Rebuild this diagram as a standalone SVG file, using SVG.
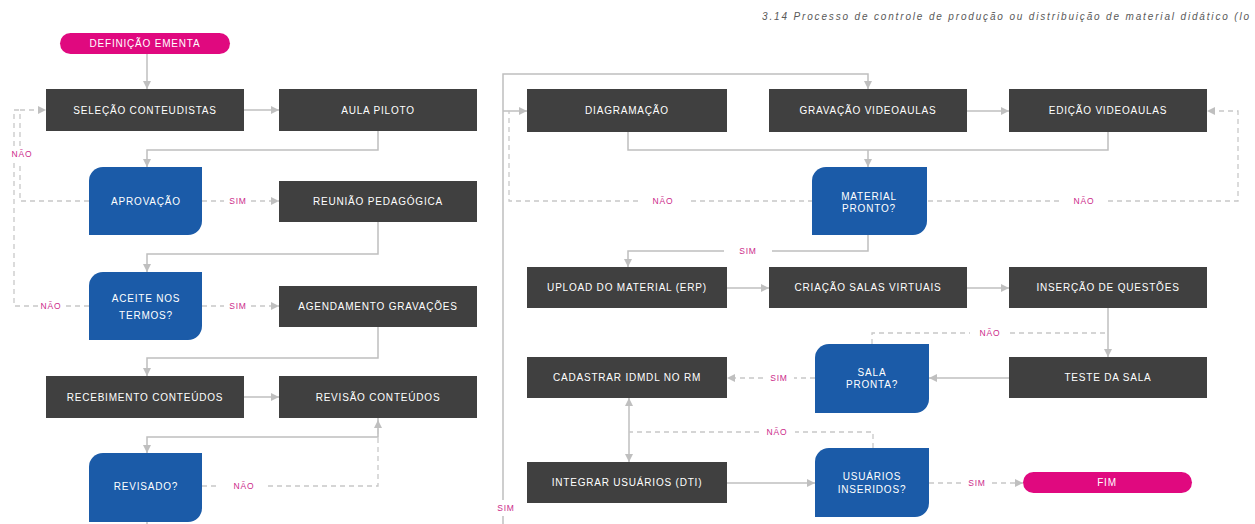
<svg xmlns="http://www.w3.org/2000/svg" width="1255" height="524" viewBox="0 0 1255 524">
<style>
.box{fill:#404040}
.dec{fill:#1b5ba8}
.pill{fill:#e0097f}
.t{font-family:"Liberation Sans",Arial,sans-serif;font-size:10px;fill:#ffffff;letter-spacing:0.8px;text-anchor:middle}
.lbl{font-family:"Liberation Sans",Arial,sans-serif;font-size:8.5px;fill:#cc2a8a;letter-spacing:0.8px;text-anchor:middle}
.title{font-family:"Liberation Sans",Arial,sans-serif;font-size:10px;font-style:italic;fill:#595959;letter-spacing:0.9px}
.c{fill:none;stroke:#bfbfbf;stroke-width:1.5}
.d{fill:none;stroke:#c8c8c8;stroke-width:1.3;stroke-dasharray:5 4}
</style>
<defs>
<marker id="ah" viewBox="0 0 8 8" refX="8" refY="4" markerWidth="8" markerHeight="8" markerUnits="userSpaceOnUse" orient="auto-start-reverse">
<path d="M0,0 L8,4 L0,8 Z" fill="#bfbfbf"/>
</marker>
</defs>
<rect width="1255" height="524" fill="#ffffff"/>
<text class="title" x="762" y="20" textLength="488" lengthAdjust="spacing">3.14 Processo de controle de produção ou distribuição de material didático (lo</text>

<g id="connectors">
<!-- solid -->
<path class="c" d="M147,54 V89" marker-end="url(#ah)"/>
<path class="c" d="M244,110 H279" marker-end="url(#ah)"/>
<path class="c" d="M378,131 V150 H147 V167" marker-end="url(#ah)"/>
<path class="c" d="M378,222 V254 H147 V272" marker-end="url(#ah)"/>
<path class="c" d="M378,327 V358 H147 V376" marker-end="url(#ah)"/>
<path class="c" d="M244,397 H279" marker-end="url(#ah)"/>
<path class="c" d="M378,418 V437 H147 V453" marker-end="url(#ah)"/>
<path class="c" d="M147,522 V524"/>
<path class="c" d="M503,524 V516"/>
<path class="c" d="M503,500 V74 H868 V89" marker-end="url(#ah)"/>
<path class="c" d="M503,111 H527" marker-end="url(#ah)"/>
<path class="c" d="M967,111 H1009" marker-end="url(#ah)"/>
<path class="c" d="M628,132 V150 H1108 V132"/>
<path class="c" d="M868,150 V167" marker-end="url(#ah)"/>
<path class="c" d="M868,235 V251 H772"/>
<path class="c" d="M724,251 H628 V267" marker-end="url(#ah)"/>
<path class="c" d="M727,288 H769" marker-end="url(#ah)"/>
<path class="c" d="M967,288 H1009" marker-end="url(#ah)"/>
<path class="c" d="M1108,308 V357" marker-end="url(#ah)"/>
<path class="c" d="M1009,378 H929" marker-end="url(#ah)"/>
<path class="c" d="M629,398 V462" marker-start="url(#ah)" marker-end="url(#ah)"/>
<path class="c" d="M727,483 H815" marker-end="url(#ah)"/>
<!-- dashed -->
<path class="d" d="M89,201 H20 V162"/>
<path class="d" d="M20,146 V110 H46" marker-end="url(#ah)"/>
<path class="d" d="M89,306 H63"/>
<path class="d" d="M38,306 H14 V162"/>
<path class="d" d="M14,146 V110 H20"/>
<path class="d" d="M202,201 H224"/>
<path class="d" d="M251,201 H279" marker-end="url(#ah)"/>
<path class="d" d="M202,306 H224"/>
<path class="d" d="M251,306 H279" marker-end="url(#ah)"/>
<path class="d" d="M202,486 H220"/>
<path class="d" d="M268,486 H378 V420" marker-end="url(#ah)"/>
<path class="d" d="M813,201 H688"/>
<path class="d" d="M638,201 H509 V111"/>
<path class="d" d="M928,201 H1060"/>
<path class="d" d="M1108,201 H1238 V111 H1207" marker-end="url(#ah)"/>
<path class="d" d="M872,344 V333 H970"/>
<path class="d" d="M1010,333 H1108"/>
<path class="d" d="M815,378 H794"/>
<path class="d" d="M763,378 H727" marker-end="url(#ah)"/>
<path class="d" d="M873,448 V432 H795"/>
<path class="d" d="M759,432 H629"/>
<path class="d" d="M929,483 H962"/>
<path class="d" d="M992,483 H1023" marker-end="url(#ah)"/>
<!-- labels -->
<text class="lbl" x="22" y="157">NÃO</text>
<text class="lbl" x="51" y="309">NÃO</text>
<text class="lbl" x="238" y="204">SIM</text>
<text class="lbl" x="238" y="309">SIM</text>
<text class="lbl" x="244" y="489">NÃO</text>
<text class="lbl" x="506" y="511">SIM</text>
<text class="lbl" x="663" y="204">NÃO</text>
<text class="lbl" x="1084" y="204">NÃO</text>
<text class="lbl" x="748" y="254">SIM</text>
<text class="lbl" x="990" y="336">NÃO</text>
<text class="lbl" x="779" y="381">SIM</text>
<text class="lbl" x="777" y="435">NÃO</text>
<text class="lbl" x="977" y="486">SIM</text>
</g>

<g id="definicao-ementa"><rect class="pill" x="60" y="33" width="170" height="21" rx="10.5"/><text class="t" x="145" y="47">DEFINIÇÃO EMENTA</text></g>
<g id="selecao-conteudistas"><rect class="box" x="46" y="89" width="198" height="42"/><text class="t" x="145" y="114">SELEÇÃO CONTEUDISTAS</text></g>
<g id="aula-piloto"><rect class="box" x="279" y="89" width="198" height="42"/><text class="t" x="378" y="114">AULA PILOTO</text></g>
<g id="aprovacao"><path class="dec" d="M103,167 H202 V221 A14,14 0 0 1 188,235 H89 V181 A14,14 0 0 1 103,167 Z"/><text class="t" x="146" y="205">APROVAÇÃO</text></g>
<g id="reuniao-pedagogica"><rect class="box" x="279" y="181" width="198" height="41"/><text class="t" x="378" y="205">REUNIÃO PEDAGÓGICA</text></g>
<g id="aceite-termos"><path class="dec" d="M103,272 H202 V326 A14,14 0 0 1 188,340 H89 V286 A14,14 0 0 1 103,272 Z"/><text class="t" x="146" y="302">ACEITE NOS</text><text class="t" x="146" y="319">TERMOS?</text></g>
<g id="agendamento-gravacoes"><rect class="box" x="279" y="286" width="198" height="41"/><text class="t" x="378" y="310">AGENDAMENTO GRAVAÇÕES</text></g>
<g id="recebimento-conteudos"><rect class="box" x="46" y="376" width="198" height="42"/><text class="t" x="145" y="401">RECEBIMENTO CONTEÚDOS</text></g>
<g id="revisao-conteudos"><rect class="box" x="279" y="376" width="198" height="42"/><text class="t" x="378" y="401">REVISÃO CONTEÚDOS</text></g>
<g id="revisado"><path class="dec" d="M103,453 H202 V508 A14,14 0 0 1 188,522 H89 V467 A14,14 0 0 1 103,453 Z"/><text class="t" x="146" y="490">REVISADO?</text></g>

<g id="diagramacao"><rect class="box" x="527" y="89" width="200" height="43"/><text class="t" x="627" y="114">DIAGRAMAÇÃO</text></g>
<g id="gravacao-videoaulas"><rect class="box" x="769" y="89" width="198" height="43"/><text class="t" x="868" y="114">GRAVAÇÃO VIDEOAULAS</text></g>
<g id="edicao-videoaulas"><rect class="box" x="1009" y="89" width="198" height="43"/><text class="t" x="1108" y="114">EDIÇÃO VIDEOAULAS</text></g>
<g id="material-pronto"><path class="dec" d="M826,167 H927 V221 A14,14 0 0 1 913,235 H812 V181 A14,14 0 0 1 826,167 Z"/><text class="t" x="869" y="200">MATERIAL</text><text class="t" x="869" y="212">PRONTO?</text></g>
<g id="upload-material"><rect class="box" x="527" y="267" width="200" height="41"/><text class="t" x="627" y="291">UPLOAD DO MATERIAL (ERP)</text></g>
<g id="criacao-salas"><rect class="box" x="769" y="267" width="198" height="41"/><text class="t" x="868" y="291">CRIAÇÃO SALAS VIRTUAIS</text></g>
<g id="insercao-questoes"><rect class="box" x="1009" y="267" width="198" height="41"/><text class="t" x="1108" y="291">INSERÇÃO DE QUESTÕES</text></g>
<g id="cadastrar-idmdl"><rect class="box" x="527" y="357" width="200" height="41"/><text class="t" x="627" y="381">CADASTRAR IDMDL NO RM</text></g>
<g id="sala-pronta"><path class="dec" d="M829,344 H929 V399 A14,14 0 0 1 915,413 H815 V358 A14,14 0 0 1 829,344 Z"/><text class="t" x="872" y="376">SALA</text><text class="t" x="872" y="388">PRONTA?</text></g>
<g id="teste-sala"><rect class="box" x="1009" y="357" width="198" height="41"/><text class="t" x="1108" y="381">TESTE DA SALA</text></g>
<g id="integrar-usuarios"><rect class="box" x="527" y="462" width="200" height="41"/><text class="t" x="627" y="486">INTEGRAR USUÁRIOS (DTI)</text></g>
<g id="usuarios-inseridos"><path class="dec" d="M829,448 H929 V503 A14,14 0 0 1 915,517 H815 V462 A14,14 0 0 1 829,448 Z"/><text class="t" x="872" y="480">USUÁRIOS</text><text class="t" x="872" y="493">INSERIDOS?</text></g>
<g id="fim"><rect class="pill" x="1023" y="472" width="169" height="21" rx="10.5"/><text class="t" x="1107" y="486">FIM</text></g>
</svg>
